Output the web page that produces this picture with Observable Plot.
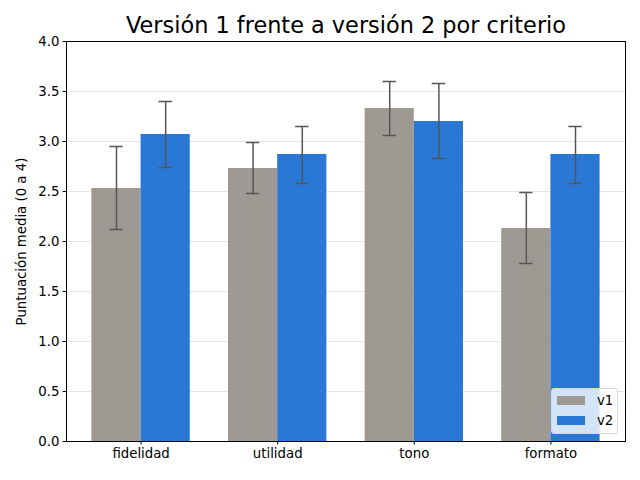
<!DOCTYPE html>
<html>
<head>
<meta charset="utf-8">
<script src="https://cdn.jsdelivr.net/npm/d3@7"></script>
<script src="https://cdn.jsdelivr.net/npm/@observablehq/plot@0.6"></script>
<style>
  html, body { margin: 0; padding: 0; background: #fff; }
  #wrap { position: relative; width: 640px; height: 480px; font-family: "DejaVu Sans", sans-serif; }
  #legend {
    position: absolute; left: 551px; top: 388px; width: 65px; height: 44px;
    background: rgba(255,255,255,0.8); border: 1px solid #d8d8d8; border-radius: 3px;
    font-size: 13.3px; color: #000;
  }
  .li { position: absolute; left: 5px; display: flex; align-items: center; }
  .sw { width: 28px; height: 9.5px; margin-right: 12px; }
</style>
</head>
<body>
<div id="wrap"></div>
<script>
const categories = ["fidelidad", "utilidad", "tono", "formato"];
const series = ["v1", "v2"];
const v1 = [2.53, 2.73, 3.33, 2.13];
const v2 = [3.07, 2.87, 3.20, 2.87];
const v1Low = [2.12, 2.48, 3.06, 1.78];
const v1High = [2.95, 2.99, 3.60, 2.49];
const v2Low = [2.74, 2.58, 2.83, 2.58];
const v2High = [3.40, 3.15, 3.58, 3.15];
const yTicks = [0, 0.5, 1, 1.5, 2, 2.5, 3, 3.5, 4];
const colors = ["#9e9a93", "#2978d6"];
const title = "Versión 1 frente a versión 2 por criterio";
const yLabel = "Puntuación media (0 a 4)";

const barW = 0.36;
const capHalf = 0.049;

const rows = [];
categories.forEach((c, i) => {
  rows.push({cat: c, i, s: "v1", x1: i - barW, x2: i, xc: i - barW / 2, y: v1[i], lo: v1Low[i], hi: v1High[i]});
  rows.push({cat: c, i, s: "v2", x1: i, x2: i + barW, xc: i + barW / 2, y: v2[i], lo: v2Low[i], hi: v2High[i]});
});
const caps = rows.flatMap(r => [{...r, cy: r.lo}, {...r, cy: r.hi}]);

const chart = Plot.plot({
  width: 640,
  height: 480,
  marginLeft: 66,
  marginRight: 15,
  marginTop: 41,
  marginBottom: 39,
  style: {fontFamily: "DejaVu Sans, sans-serif", fontSize: "13.3px", color: "#000", background: "#fff"},
  x: {domain: [-0.546, 3.546]},
  y: {domain: [0, 4]},
  color: {domain: series, range: colors},
  marks: [
    Plot.gridY(yTicks.slice(1, -1), {stroke: "#e0e0e0", strokeOpacity: 1, strokeWidth: 0.8}),
    Plot.rectY(rows, {x1: "x1", x2: "x2", y1: 0, y2: "y", fill: "s"}),
    Plot.ruleX(rows, {x: "xc", y1: "lo", y2: "hi", stroke: "#555", strokeWidth: 1.5}),
    Plot.ruleY(caps, {y: "cy", x1: d => d.xc - capHalf, x2: d => d.xc + capHalf, stroke: "#555", strokeWidth: 1.5}),
    Plot.frame({stroke: "#000", strokeWidth: 1}),
    Plot.axisY({ticks: yTicks, tickFormat: d => d.toFixed(1), tickSize: 3.5, tickPadding: 3.5,
      label: yLabel, labelAnchor: "center", labelArrow: "none", labelOffset: 50, fontSize: 13.3}),
    Plot.axisX({ticks: [0, 1, 2, 3], tickFormat: d => categories[d], tickSize: 3.5, tickPadding: 3.5,
      label: null, fontSize: 13.3}),
    Plot.text([title], {frameAnchor: "top", dy: -9, text: d => d, fontSize: 22.4, lineAnchor: "bottom"})
  ]
});
const wrap = document.getElementById("wrap");
wrap.appendChild(chart);

const legend = document.createElement("div");
legend.id = "legend";
series.forEach((s, k) => {
  const item = document.createElement("div");
  item.className = "li";
  item.style.top = (4 + k * 20) + "px";
  const sw = document.createElement("span");
  sw.className = "sw";
  sw.style.background = colors[k];
  const t = document.createElement("span");
  t.textContent = s;
  item.appendChild(sw);
  item.appendChild(t);
  legend.appendChild(item);
});
wrap.appendChild(legend);
</script>
</body>
</html>
